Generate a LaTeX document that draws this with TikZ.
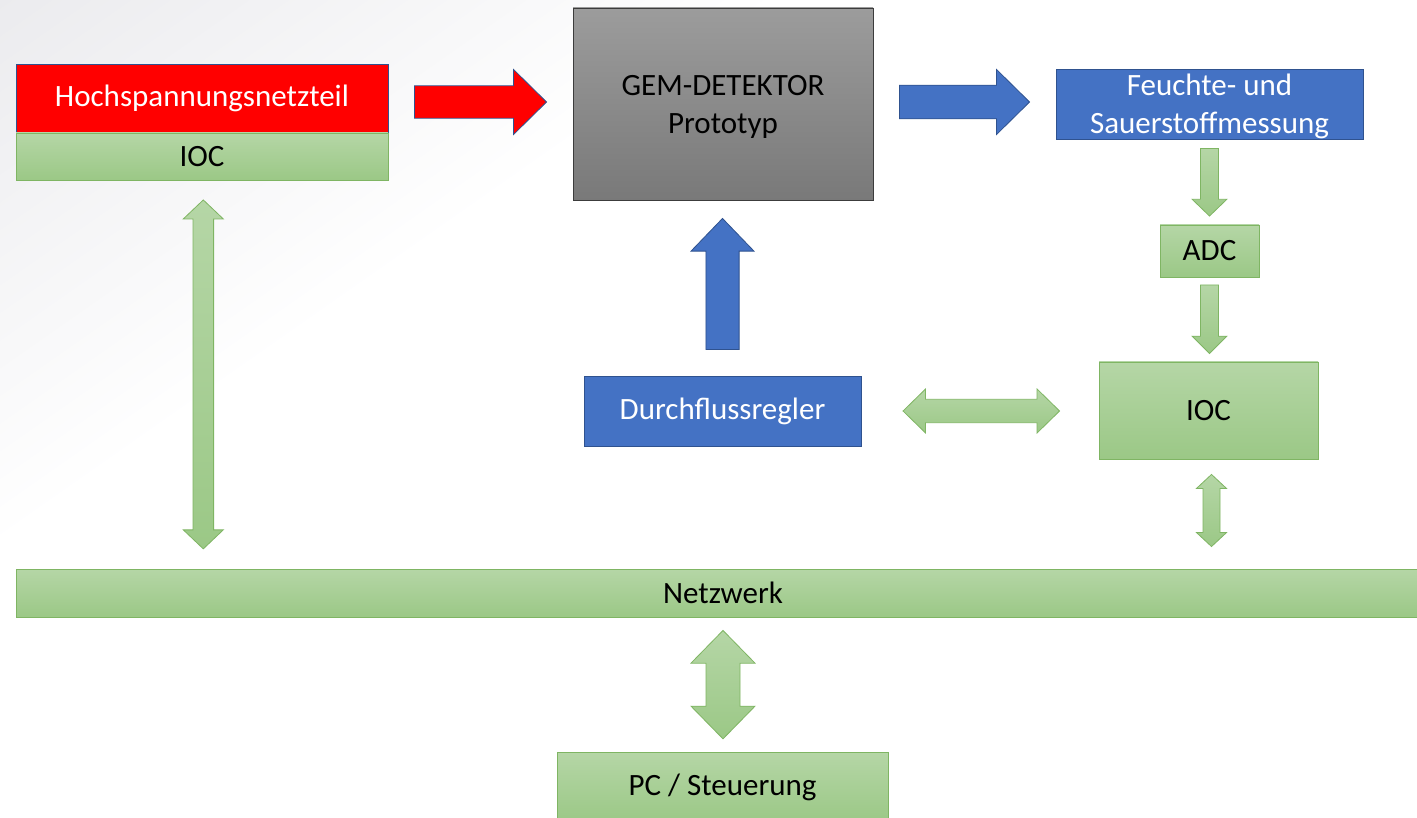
\documentclass[tikz,border=0pt]{standalone}
\usepackage{fontspec}
\setmainfont{Carlito}
\usetikzlibrary{calc}

\definecolor{hvred}{HTML}{FF0000}
\definecolor{edgeblue}{HTML}{2F528F}
\definecolor{accblue}{HTML}{4472C4}
\definecolor{gtop}{HTML}{B5D6A6}
\definecolor{gbot}{HTML}{9BC886}
\definecolor{gedge}{HTML}{7FB563}
\definecolor{graytop}{HTML}{9C9C9C}
\definecolor{graybot}{HTML}{797979}
\definecolor{grayedge}{HTML}{3C3C3C}
\definecolor{bgtl}{HTML}{EBEBEE}

\pgfdeclarehorizontalshading{bgfade}{100bp}{color(0bp)=(bgtl); color(15bp)=(bgtl); color(31bp)=(white); color(100bp)=(white)}

% block arrow pointing right, from the east side of #2 to the west side of #3
\newcommand\arrowright[8]{%
  \path[#1] let \p1=(#2), \p2=(#3) in
    ({\x1+#4pt},{\y2+#6pt}) -- ({\x2-#5pt-#8pt},{\y2+#6pt}) --
    ({\x2-#5pt-#8pt},{\y2+#7pt}) -- ({\x2-#5pt},{\y2}) --
    ({\x2-#5pt-#8pt},{\y2-#7pt}) -- ({\x2-#5pt-#8pt},{\y2-#6pt}) --
    ({\x1+#4pt},{\y2-#6pt}) -- cycle;}
% block arrow pointing down, from #2 (above) to #3 (below)
\newcommand\arrowdown[8]{%
  \path[#1] let \p1=(#2), \p2=(#3) in
    ({\x1-#6pt},{\y1-#4pt}) -- ({\x1+#6pt},{\y1-#4pt}) --
    ({\x1+#6pt},{\y2+#5pt+#8pt}) -- ({\x1+#7pt},{\y2+#5pt+#8pt}) --
    ({\x1},{\y2+#5pt}) -- ({\x1-#7pt},{\y2+#5pt+#8pt}) --
    ({\x1-#6pt},{\y2+#5pt+#8pt}) -- cycle;}
% block arrow pointing up, from #2 (below) to #3 (above)
\newcommand\arrowup[8]{%
  \path[#1] let \p1=(#2), \p2=(#3) in
    ({\x1-#6pt},{\y1+#4pt}) -- ({\x1+#6pt},{\y1+#4pt}) --
    ({\x1+#6pt},{\y2-#5pt-#8pt}) -- ({\x1+#7pt},{\y2-#5pt-#8pt}) --
    ({\x1},{\y2-#5pt}) -- ({\x1-#7pt},{\y2-#5pt-#8pt}) --
    ({\x1-#6pt},{\y2-#5pt-#8pt}) -- cycle;}
% vertical double-headed block arrow between #2 (above) and #3 (below)
\newcommand\vdouble[8]{%
  \path[#1] let \p1=(#2), \p2=(#3) in
    ({\x1},{\y1-#4pt}) --
    ({\x1+#7pt},{\y1-#4pt-#8pt}) -- ({\x1+#6pt},{\y1-#4pt-#8pt}) --
    ({\x1+#6pt},{\y2+#5pt+#8pt}) -- ({\x1+#7pt},{\y2+#5pt+#8pt}) --
    ({\x1},{\y2+#5pt}) --
    ({\x1-#7pt},{\y2+#5pt+#8pt}) -- ({\x1-#6pt},{\y2+#5pt+#8pt}) --
    ({\x1-#6pt},{\y1-#4pt-#8pt}) -- ({\x1-#7pt},{\y1-#4pt-#8pt}) -- cycle;}
% horizontal double-headed block arrow between #2 (left) and #3 (right)
\newcommand\hdouble[8]{%
  \path[#1] let \p1=(#2), \p2=(#3) in
    ({\x1+#4pt},{\y1}) --
    ({\x1+#4pt+#8pt},{\y1+#7pt}) -- ({\x1+#4pt+#8pt},{\y1+#6pt}) --
    ({\x2-#5pt-#8pt},{\y1+#6pt}) -- ({\x2-#5pt-#8pt},{\y1+#7pt}) --
    ({\x2-#5pt},{\y1}) --
    ({\x2-#5pt-#8pt},{\y1-#7pt}) -- ({\x2-#5pt-#8pt},{\y1-#6pt}) --
    ({\x1+#4pt+#8pt},{\y1-#6pt}) -- ({\x1+#4pt+#8pt},{\y1-#7pt}) -- cycle;}

\tikzset{
  box/.style={rectangle, inner sep=0pt, align=center, line width=0.9pt,
    font=\fontsize{31}{38}\selectfont},
  redbox/.style={box, fill=hvred, draw=edgeblue, text=white},
  bluebox/.style={box, fill=accblue, draw=edgeblue, text=white},
  greenbox/.style={box, top color=gtop, bottom color=gbot, draw=gedge, text=black},
  graybox/.style={box, top color=graytop, bottom color=graybot, draw=grayedge, text=black},
  redarrow/.style={fill=hvred, draw=edgeblue, line width=0.8pt},
  bluearrow/.style={fill=accblue, draw=edgeblue, line width=0.8pt},
  greenarrow/.style={top color=gtop, bottom color=gbot, draw=gedge, line width=0.8pt},
}

\begin{document}
\begin{tikzpicture}[x=1pt, y=-1pt]
  \useasboundingbox (0,0) rectangle (1417,818);
  \clip (0,0) rectangle (1417,818);

  % background: soft grey in the upper left corner, fading to white
  \fill[white] (0,0) rectangle (1417,818);
  \shade[shading=bgfade, shading angle=-55] (0,0) rectangle (1417,1417);

  % blocks
  \node[redbox, minimum width=372, minimum height=69] (hv) at (202,98.5) {Hochspannungsnetzteil};
  \node[greenbox, minimum width=372, minimum height=47] (hvioc) at (202,156.5) {IOC};
  \node[graybox, minimum width=300, minimum height=192, text depth=0pt] (gem) at (723,104) {GEM-DETEKTOR\\Prototyp};
  \node[bluebox, minimum width=307, minimum height=70, text depth=0pt] (feuchte) at (1209.5,104) {Feuchte- und\\Sauerstoffmessung};
  \node[greenbox, minimum width=99, minimum height=52] (adc) at (1209.5,251) {ADC};
  \node[greenbox, minimum width=219, minimum height=97] (ioc) at (1208.5,410.5) {IOC};
  \node[bluebox, minimum width=277, minimum height=70] (durch) at (722.5,411) {Durchflussregler};
  \node[greenbox, minimum width=1414, minimum height=48] (netz) at (723,593) {Netzwerk};
  \node[greenbox, minimum width=331, minimum height=70] (pc) at (722.5,787) {PC / Steuerung};

  % connectors
  \arrowright{redarrow}{hv.east}{$(gem.west)+(0,-2)$}{26}{26}{16.2}{32.5}{33}
  \arrowright{bluearrow}{gem.east}{$(feuchte.west)+(0,-2)$}{26}{26}{16.8}{32.5}{33}
  \arrowdown{greenarrow}{feuchte.south}{adc.north}{9}{8.5}{9}{17.3}{16.7}
  \arrowdown{greenarrow}{adc.south}{ioc.north}{7.5}{8}{9}{17.3}{17.3}
  \arrowup{bluearrow}{durch.north}{gem.south}{26}{18}{16.6}{31.5}{32.7}
  \hdouble{greenarrow}{durch.east}{ioc.west}{41.6}{39}{11.7}{22}{22.5}
  \vdouble{greenarrow}{$(hvioc.south)+(1.3,0)$}{netz.north}{19.5}{19.7}{10.3}{20}{19}
  \vdouble{greenarrow}{$(ioc.south)+(3,0)$}{netz.north}{15}{22}{8.5}{15}{14}
  \vdouble{greenarrow}{netz.south}{pc.north}{13}{12.7}{17}{32}{32.7}
\end{tikzpicture}
\end{document}
